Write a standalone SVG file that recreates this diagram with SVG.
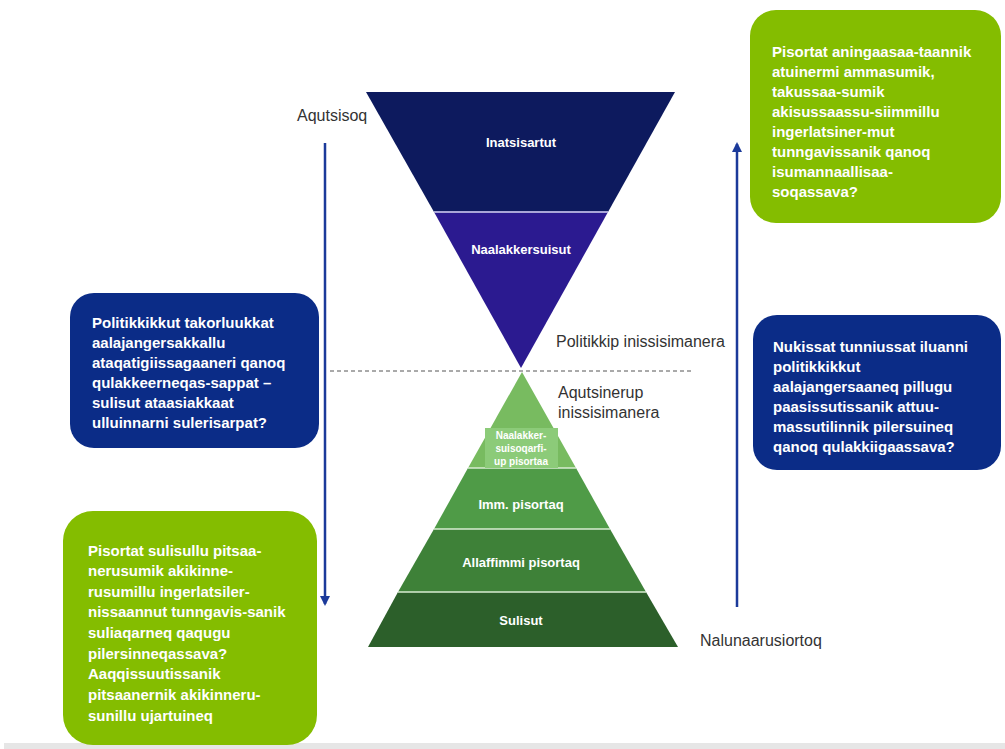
<svg xmlns="http://www.w3.org/2000/svg" width="1005" height="749" viewBox="0 0 1005 749">
<defs>
<style>
.box{font-family:"Liberation Sans",Arial,sans-serif;font-size:15px;font-weight:bold;fill:#ffffff}
.tier{font-family:"Liberation Sans",Arial,sans-serif;font-size:13px;font-weight:bold;fill:#ffffff;text-anchor:middle}
.small{font-size:10px}
.lbl{font-family:"Liberation Sans",Arial,sans-serif;font-size:16px;fill:#333333}
.green{fill:#84bd00}
.navy{fill:#0b2c87}
.arr{stroke:#1b3a9a;stroke-width:2.5;fill:none}
</style>
<marker id="ah" viewBox="0 0 10 10" refX="8" refY="5" markerWidth="4" markerHeight="4" orient="auto">
<path d="M0,0 L10,5 L0,10 z" fill="#1b3a9a"/>
</marker>
</defs>
<rect width="1005" height="749" fill="#ffffff"/>
<rect x="4" y="743" width="1001" height="6" fill="#e6e6e6"/>

<g id="connectors">
<line class="arr" x1="325" y1="143" x2="325" y2="604" marker-end="url(#ah)"/>
<line class="arr" x1="737" y1="607" x2="737" y2="144" marker-end="url(#ah)"/>
<line x1="330" y1="371" x2="693" y2="371" stroke="#555555" stroke-width="1" stroke-dasharray="4,3"/>
</g>

<g id="inverted-triangle">
<polygon points="366,92 675,92 608,212 434,212" fill="#0d1a5e"/>
<polygon points="434,212 608,212 521,368" fill="#2b1a90"/>
<line x1="434" y1="212" x2="608" y2="212" stroke="#a9a6d8" stroke-width="2"/>
<text class="tier" x="521" y="147">Inatsisartut</text>
<text class="tier" x="521" y="254">Naalakkersuisut</text>
</g>

<g id="pyramid">
<polygon points="522,372 576,468 468,468" fill="#78bb60"/>
<polygon points="468,468 576,468 610,529 434,529" fill="#4f9b47"/>
<polygon points="434,529 610,529 646,592 398,592" fill="#3e8138"/>
<polygon points="398,592 646,592 678,647 368,647" fill="#2c5f2a"/>
<g stroke="#d8ecd2" stroke-width="1.5">
<line x1="468" y1="468" x2="576" y2="468"/>
<line x1="434" y1="529" x2="610" y2="529"/>
<line x1="398" y1="592" x2="646" y2="592"/>
</g>
<rect x="485" y="428" width="73" height="40" fill="#8ccb79"/>
<text class="tier small" x="521" y="439">Naalakker-</text>
<text class="tier small" x="521" y="452">suisoqarfi-</text>
<text class="tier small" x="521" y="465">up pisortaa</text>
<text class="tier" x="521" y="509">Imm. pisortaq</text>
<text class="tier" x="521" y="567">Allaffimmi pisortaq</text>
<text class="tier" x="521" y="625">Sulisut</text>
</g>

<g id="labels">
<text class="lbl" x="297" y="121">Aqutsisoq</text>
<text class="lbl" x="556" y="347">Politikkip inissisimanera</text>
<text class="lbl" x="558" y="398">Aqutsinerup</text>
<text class="lbl" x="558" y="418">inissisimanera</text>
<text class="lbl" x="700" y="646">Nalunaarusiortoq</text>
</g>

<g id="box-top-right">
<rect class="green" x="750" y="10" width="251" height="213" rx="26"/>
<text class="box" x="772" y="57">Pisortat aningaasaa-taannik</text>
<text class="box" x="772" y="77">atuinermi ammasumik,</text>
<text class="box" x="772" y="97">takussaa-sumik</text>
<text class="box" x="772" y="117">akisussaassu-siimmillu</text>
<text class="box" x="772" y="137">ingerlatsiner-mut</text>
<text class="box" x="772" y="157">tunngavissanik qanoq</text>
<text class="box" x="772" y="177">isumannaallisaa-</text>
<text class="box" x="772" y="197">soqassava?</text>
</g>

<g id="box-right">
<rect class="navy" x="753" y="315" width="248" height="155" rx="24"/>
<text class="box" x="773" y="352">Nukissat tunniussat iluanni</text>
<text class="box" x="773" y="372">politikkikkut</text>
<text class="box" x="773" y="392">aalajangersaaneq pillugu</text>
<text class="box" x="773" y="412">paasissutissanik attuu-</text>
<text class="box" x="773" y="432">massutilinnik pilersuineq</text>
<text class="box" x="773" y="452">qanoq qulakkiigaassava?</text>
</g>

<g id="box-left-top">
<rect class="navy" x="70" y="293" width="249" height="155" rx="24"/>
<text class="box" x="92" y="328">Politikkikkut takorluukkat</text>
<text class="box" x="92" y="348">aalajangersakkallu</text>
<text class="box" x="92" y="368">ataqatigiissagaaneri qanoq</text>
<text class="box" x="92" y="388">qulakkeerneqas-sappat –</text>
<text class="box" x="92" y="408">sulisut ataasiakkaat</text>
<text class="box" x="92" y="428">ulluinnarni sulerisarpat?</text>
</g>

<g id="box-left-bottom">
<rect class="green" x="63" y="511" width="254" height="234" rx="30"/>
<text class="box" x="88" y="556">Pisortat sulisullu pitsaa-</text>
<text class="box" x="88" y="576">nerusumik akikinne-</text>
<text class="box" x="88" y="597">rusumillu ingerlatsiler-</text>
<text class="box" x="88" y="617">nissaannut tunngavis-sanik</text>
<text class="box" x="88" y="638">suliaqarneq qaqugu</text>
<text class="box" x="88" y="659">pilersinneqassava?</text>
<text class="box" x="88" y="679">Aaqqissuutissanik</text>
<text class="box" x="88" y="700">pitsaanernik  akikinneru-</text>
<text class="box" x="88" y="721">sunillu ujartuineq</text>
</g>
</svg>
